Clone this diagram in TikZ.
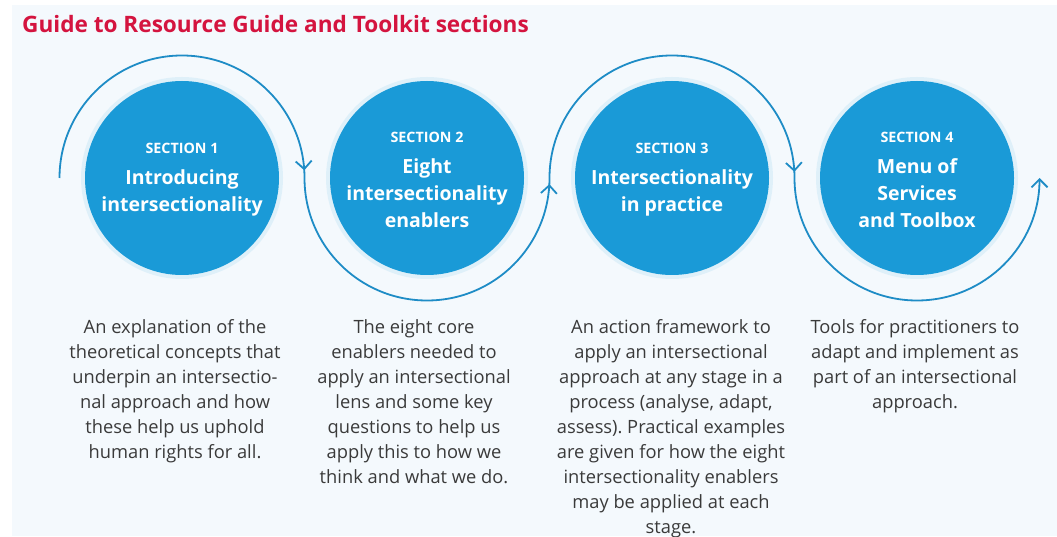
\documentclass[tikz,border=0pt]{standalone}
\usepackage{fontspec}
\setmainfont{Open Sans}
\frenchspacing
\usetikzlibrary{arrows.meta,decorations.markings}
\definecolor{bg}{HTML}{F4F9FD}
\definecolor{titlered}{HTML}{D4143F}
\definecolor{cblue}{HTML}{1A9AD7}
\definecolor{wblue}{HTML}{1E8CC6}
\definecolor{halo}{HTML}{CBE8F7}
\definecolor{bodygray}{HTML}{3A3A3A}
\tikzset{
  sec/.style={circle, fill=cblue, minimum size=194pt, inner sep=0pt, text=white, align=center,
    font=\bfseries\fontsize{19.5}{27}\selectfont},
  glow/.style={fill=halo, opacity=0.5},
  desc/.style={anchor=north, align=center, inner sep=0pt, text=bodygray,
    font=\frenchspacing\fontsize{18.3}{25}\selectfont},
  barb/.tip={Straight Barb[length=8pt,width=16pt,line width=1.8pt]},
  wave/.style={draw=wblue, line width=1.8pt, -barb,
    postaction={decorate},
    decoration={markings,
      mark=at position 0.245 with {\arrow{barb}},
      mark=at position 0.496 with {\arrow{barb}},
      mark=at position 0.746 with {\arrow{barb}}}}
}
\newcommand{\sectag}[1]{{\fontsize{14.3}{27}\selectfont SECTION #1}\\[4pt]}
\begin{document}
\begin{tikzpicture}[x=1pt,y=1pt]
\useasboundingbox (0,0) rectangle (1057,536);
\fill[white] (0,0) rectangle (1057,536);
\fill[bg] (12,0) rectangle (1057,531);

\node[anchor=west, inner sep=0pt, text=titlered, font=\bfseries\fontsize{22.6}{28}\selectfont] (title) at (22,512) {Guide to Resource Guide and Toolkit sections};

\coordinate (p1) at (182,358);
\coordinate (p2) at (427,358);
\coordinate (p3) at (672,358);
\coordinate (p4) at (917,358);

\foreach \p in {p1,p2,p3,p4} {
  \fill[glow] (\p) circle (101);
}

\node[sec] (c1) at (p1) {};
\node[sec] (c2) at (p2) {};
\node[sec] (c3) at (p3) {};
\node[sec] (c4) at (p4) {};
\node[sec, fill=none, minimum size=0pt] (t1) at ([yshift=-1.5pt]c1.center) {\sectag{1}Introducing\\intersectionality};
\node[sec, fill=none, minimum size=0pt] (t2) at ([yshift=-1.5pt]c2.center) {\sectag{2}Eight\\intersectionality\\enablers};
\node[sec, fill=none, minimum size=0pt] (t3) at ([yshift=-1.5pt]c3.center) {\sectag{3}Intersectionality\\in practice};
\node[sec, fill=none, minimum size=0pt] (t4) at ([yshift=-1.5pt]c4.center) {\sectag{4}Menu of\\Services\\and Toolbox};

\coordinate (w0) at ([xshift=-122.5pt]c1.center);
\draw[wave] (w0) arc[start angle=180,end angle=0,radius=122.5]
  arc[start angle=180,end angle=360,radius=122.5]
  arc[start angle=180,end angle=0,radius=122.5]
  arc[start angle=180,end angle=360,radius=122.5] coordinate (w4);

\node[desc] (d1) at (175,217) {An explanation of the\\theoretical concepts that\\underpin an intersectio-\\nal approach and how\\these help us uphold\\human rights for all.};
\node[desc] (d2) at (414,217) {The eight core\\enablers needed to\\apply an intersectional\\lens and some key\\questions to help us\\apply this to how we\\think and what we do.};
\node[desc] (d3) at (671,217) {An action framework to\\apply an intersectional\\approach at any stage in a\\process (analyse, adapt,\\assess). Practical examples\\are given for how the eight\\intersectionality enablers\\may be applied at each\\stage.};
\node[desc] (d4) at (915,217) {Tools for practitioners to\\adapt and implement as\\part of an intersectional\\approach.};
\end{tikzpicture}
\end{document}
